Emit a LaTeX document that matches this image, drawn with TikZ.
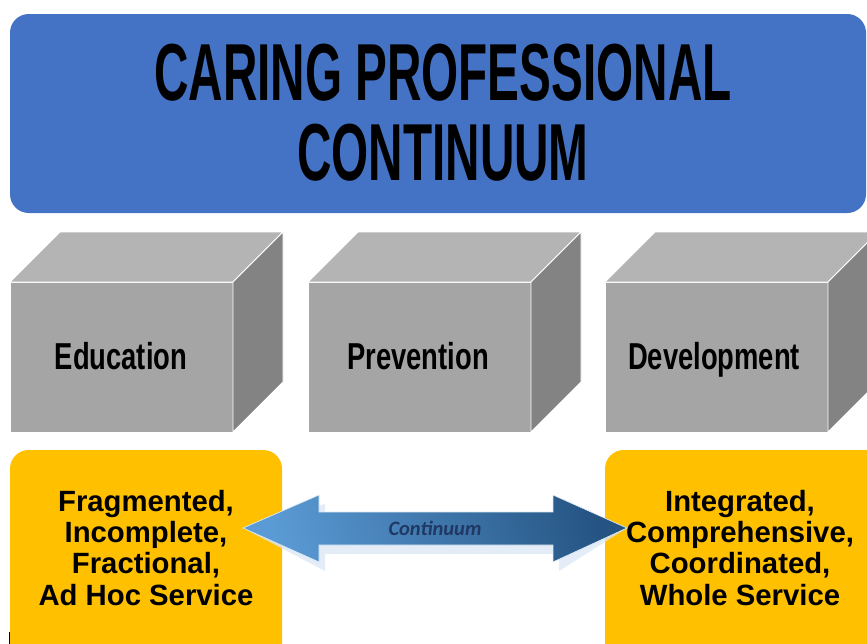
\documentclass[tikz,border=0pt]{standalone}
\usepackage{fontspec}
\setmainfont{Liberation Sans}
\newfontfamily\titlefont[FakeStretch=0.59]{Liberation Sans}
\newfontfamily\cubefont[FakeStretch=0.73]{Liberation Sans}
\newfontfamily\contfont{Carlito}
\usetikzlibrary{positioning}
\definecolor{titleblue}{HTML}{4472C4}
\definecolor{frontgray}{HTML}{A5A5A5}
\definecolor{topgray}{HTML}{B4B4B4}
\definecolor{sidegray}{HTML}{838383}
\definecolor{boxyellow}{HTML}{FFC000}
\definecolor{arrowlight}{HTML}{5B9BD5}
\definecolor{arrowdark}{HTML}{255483}
\definecolor{arrowshadow}{HTML}{DAE6F4}
\definecolor{contblue}{HTML}{203864}

\begin{document}
\begin{tikzpicture}
[x=0.03cm,y=-0.03cm,
 title/.style={font=\titlefont\bfseries\fontsize{69}{80}\selectfont,anchor=base,inner sep=0},
 cubefront/.style={fill=frontgray,draw=white,line width=0.8pt},
 cubetop/.style={fill=topgray,draw=white,line width=0.8pt},
 cubeside/.style={fill=sidegray,draw=white,line width=0.8pt},
 cubelabel/.style={font=\cubefont\bfseries\fontsize{32}{36}\selectfont,anchor=base,inner sep=0},
 yellowbox/.style={fill=boxyellow,rounded corners=16},
 service/.style={font=\bfseries\fontsize{25}{26.5}\selectfont,align=center,inner sep=0},
 contlabel/.style={font=\contfont\bfseries\itshape\fontsize{17.5}{19}\selectfont,text=contblue}]

\useasboundingbox (0,0) rectangle (867,644);

% title
\fill [titleblue,rounded corners=16] (10,14) rectangle (866,213);
\node (title1) [title] at (443,100) {CARING PROFESSIONAL};
\node (title2) [title] at (443,180) {CONTINUUM};

% education
\filldraw [cubefront] (10,282) rectangle (233,432);
\filldraw [cubetop] (10,282) -- (60,232) -- (283,232) -- (233,282) -- cycle;
\filldraw [cubeside] (233,282) -- (283,232) -- (283,382) -- (233,432) -- cycle;
\node (edu) [cubelabel] at (121,369) {Education};

% prevention
\filldraw [cubefront] (308,282) rectangle (531,432);
\filldraw [cubetop] (308,282) -- (358,232) -- (581,232) -- (531,282) -- cycle;
\filldraw [cubeside] (531,282) -- (581,232) -- (581,382) -- (531,432) -- cycle;
\node (prev) [cubelabel] at (418,369) {Prevention};

% development
\filldraw [cubefront] (605,282) rectangle (828,432);
\filldraw [cubetop] (605,282) -- (655,232) -- (878,232) -- (828,282) -- cycle;
\filldraw [cubeside] (828,282) -- (878,232) -- (878,382) -- (828,432) -- cycle;
\node (dev) [cubelabel] at (714,369) {Development};

% service boxes
\fill [yellowbox] (10,450) rectangle (282,680);
\fill [yellowbox] (605,450) rectangle (900,680);

% continuum arrow
\coordinate (ltip) at (243,528);
\coordinate (rtip) at (627,528);
\fill [arrowshadow,opacity=0.75,shift={(6,9)}] (ltip) -- (319,495) -- (319,512)
	-- (553,512) -- (553,495) -- (rtip) -- (553,562) -- (553,545)
	-- (319,545) -- (319,562) -- cycle;
\shadedraw [left color=arrowlight,right color=arrowdark,shading angle=105,
	draw=white!80!arrowlight,line width=0.6pt]
	(ltip) -- (319,495) -- (319,512) -- (553,512) -- (553,495) -- (rtip)
	-- (553,562) -- (553,545) -- (319,545) -- (319,562) -- cycle;
\node (cont) [contlabel] at (435,528) {Continuum};

\node (frag) [service] at (146,548) {Fragmented,\\Incomplete,\\Fractional,\\Ad Hoc Service};
\node (integ) [service] at (740,548) {Integrated,\\Comprehensive,\\Coordinated,\\Whole Service};

\draw [line width=0.6pt] (9,632) -- (9,644);
\end{tikzpicture}
\end{document}
